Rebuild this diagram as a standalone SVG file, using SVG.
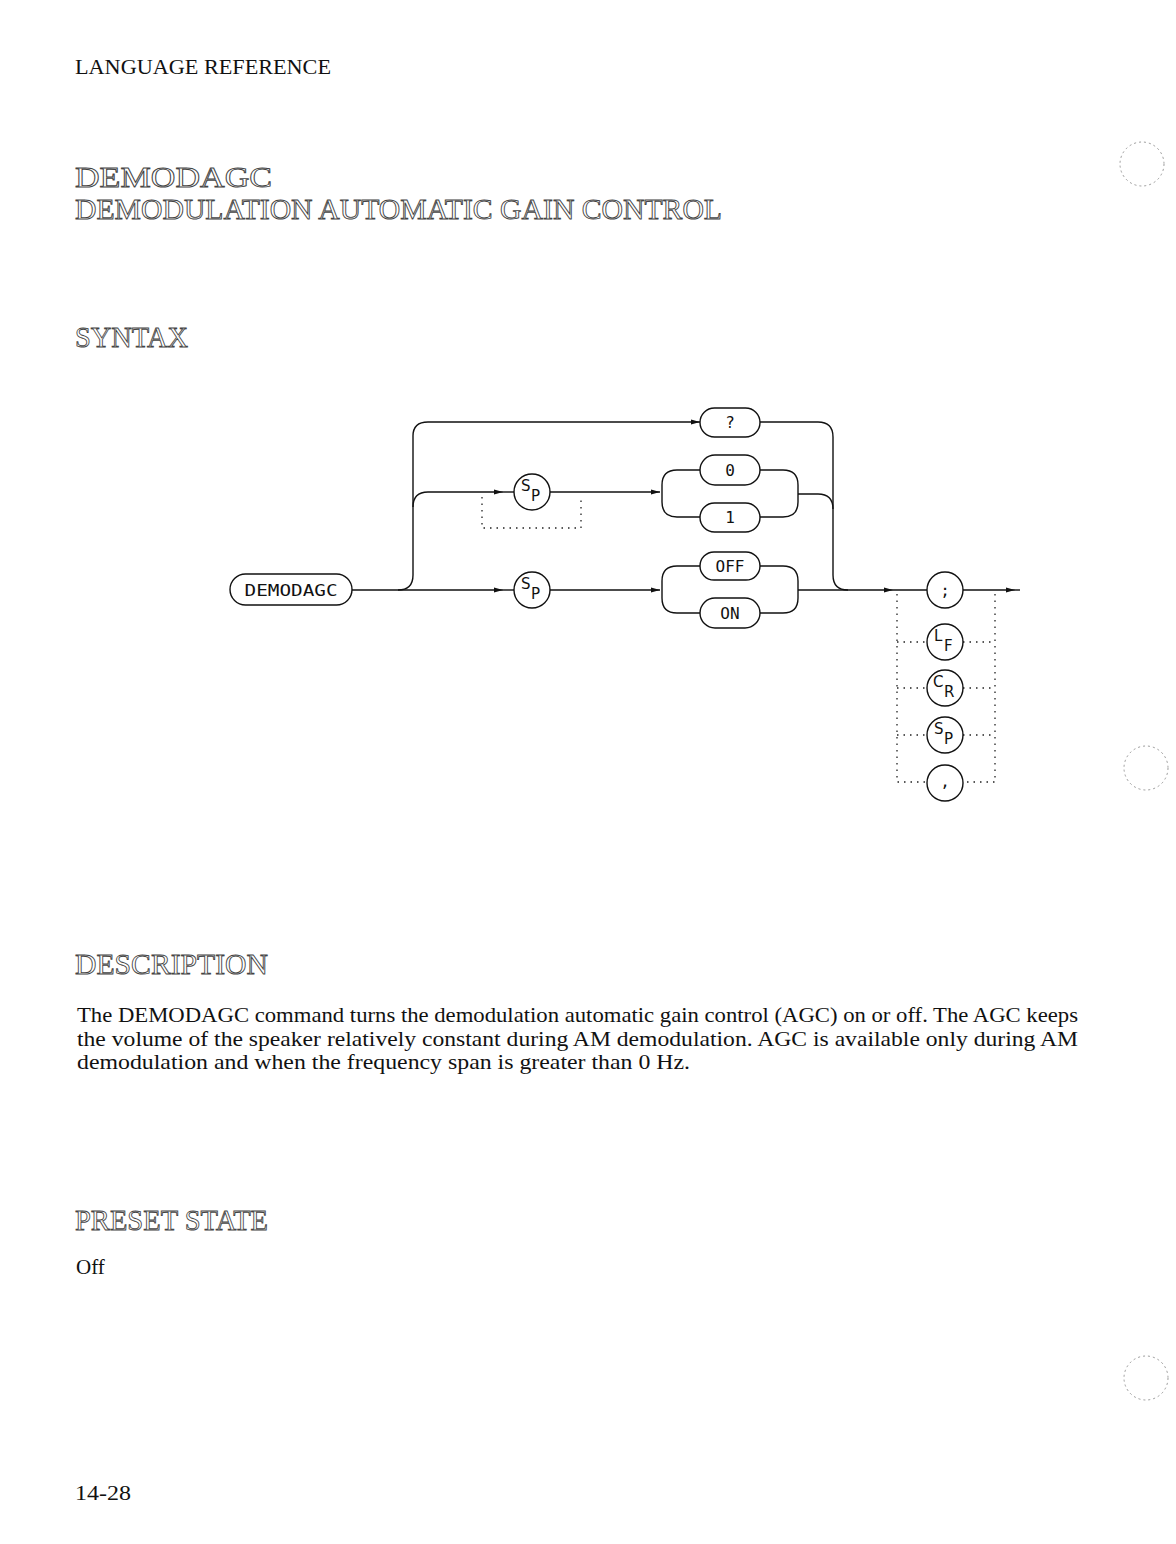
<svg xmlns="http://www.w3.org/2000/svg" width="1176" height="1544" viewBox="0 0 1176 1544">
<defs>
<style>
.serif{font-family:"Liberation Serif","Times New Roman",serif;fill:#111}
.title{font-family:"Liberation Serif","Times New Roman",serif;fill:#fff;stroke:#444;stroke-width:0.9}
.dg{font-family:"DejaVu Sans","Liberation Sans",sans-serif;fill:#111;font-size:15px}
.mono{font-family:"DejaVu Sans Mono","Liberation Mono",monospace;fill:#111;font-size:16px}
.ln{fill:none;stroke:#111;stroke-width:1.4}
.dot{fill:none;stroke:#222;stroke-width:1.3;stroke-dasharray:1.5 5}
.box{fill:#fff;stroke:#111;stroke-width:1.4}
.hole{fill:none;stroke:#999;stroke-width:1;stroke-dasharray:2 3}
</style>
<marker id="arr" markerWidth="10" markerHeight="8" refX="9" refY="4" orient="auto" markerUnits="userSpaceOnUse">
<path d="M0,1.5 L9,4 L0,6.5 Z" fill="#111"/>
</marker>
</defs>
<rect width="1176" height="1544" fill="#fff"/>

<text class="serif" x="75" y="74" font-size="21" textLength="256" lengthAdjust="spacingAndGlyphs">LANGUAGE REFERENCE</text>
<text class="title" x="75" y="187" font-size="29" textLength="197" lengthAdjust="spacingAndGlyphs">DEMODAGC</text>
<text class="title" x="75" y="219" font-size="29" textLength="647" lengthAdjust="spacingAndGlyphs">DEMODULATION AUTOMATIC GAIN CONTROL</text>
<text class="title" x="75" y="347" font-size="30" textLength="113" lengthAdjust="spacingAndGlyphs">SYNTAX</text>

<g id="holes">
<circle class="hole" cx="1142" cy="164" r="22"/>
<circle class="hole" cx="1146" cy="768" r="22"/>
<circle class="hole" cx="1146" cy="1378" r="22"/>
</g>

<g id="connectors">
<path class="ln" d="M352,590 H503" marker-end="url(#arr)"/>
<path class="ln" d="M503,590 H514"/>
<path class="ln" d="M398,590 Q413,590 413,575 V436 Q413,422 428,422 H700" marker-end="url(#arr)"/>
<path class="ln" d="M413,507 Q413,492 428,492 H503" marker-end="url(#arr)"/>
<path class="ln" d="M503,492 H514"/>
<path class="ln" d="M550,492 H660" marker-end="url(#arr)"/>
<path class="ln" d="M550,590 H660" marker-end="url(#arr)"/>
<path class="ln" d="M662,492 V485 Q662,470 677,470 H700 M662,492 V502 Q662,517 677,517 H700"/>
<path class="ln" d="M760,470 H783 Q798,470 798,485 V502 Q798,517 783,517 H760"/>
<path class="ln" d="M798,494 H818 Q833,494 833,509"/>
<path class="ln" d="M760,422 H818 Q833,422 833,437 V575 Q833,590 848,590"/>
<path class="ln" d="M662,590 V581 Q662,566 677,566 H700 M662,590 V598 Q662,613 677,613 H700"/>
<path class="ln" d="M760,566 H783 Q798,566 798,581 V598 Q798,613 783,613 H760"/>
<path class="ln" d="M798,590 H893" marker-end="url(#arr)"/>
<path class="ln" d="M893,590 H927"/>
<path class="ln" d="M963,590 H1015" marker-end="url(#arr)"/>
<path class="ln" d="M1015,590 H1020"/>
<path class="dot" d="M482,497 V528 H581 V497"/>
<path class="dot" d="M897,594 V782 H927 M995,594 V782 H963"/>
<path class="dot" d="M897,642 H927 M963,642 H995 M897,688 H927 M963,688 H995 M897,735 H927 M963,735 H995"/>
</g>

<g id="n-demodagc">
<rect class="box" x="230" y="574" width="122" height="31" rx="15.5"/>
<text class="mono" x="291" y="596" text-anchor="middle" textLength="93" lengthAdjust="spacingAndGlyphs">DEMODAGC</text>
</g>
<g id="n-sp1">
<circle class="box" cx="532" cy="492" r="18"/>
<text class="dg" x="521" y="491">S</text><text class="dg" x="531" y="501">P</text>
</g>
<g id="n-sp2">
<circle class="box" cx="532" cy="590" r="18"/>
<text class="dg" x="521" y="589">S</text><text class="dg" x="531" y="599">P</text>
</g>
<g id="n-query">
<rect class="box" x="700" y="408" width="60" height="29" rx="14.5"/>
<text class="mono" x="730" y="428" text-anchor="middle">?</text>
</g>
<g id="n-zero">
<rect class="box" x="700" y="455" width="60" height="30" rx="15"/>
<text class="mono" x="730" y="476" text-anchor="middle">0</text>
</g>
<g id="n-one">
<rect class="box" x="700" y="503" width="60" height="29" rx="14.5"/>
<text class="mono" x="730" y="523" text-anchor="middle">1</text>
</g>
<g id="n-off">
<rect class="box" x="700" y="552" width="60" height="28" rx="14"/>
<text class="mono" x="730" y="572" text-anchor="middle">OFF</text>
</g>
<g id="n-on">
<rect class="box" x="700" y="598" width="60" height="30" rx="15"/>
<text class="mono" x="730" y="619" text-anchor="middle">ON</text>
</g>
<g id="n-semi">
<circle class="box" cx="945" cy="590" r="18"/>
<text class="mono" x="945" y="596" text-anchor="middle">;</text>
</g>
<g id="n-lf">
<circle class="box" cx="945" cy="642" r="18"/>
<text class="dg" x="934" y="641">L</text><text class="dg" x="944" y="651">F</text>
</g>
<g id="n-cr">
<circle class="box" cx="945" cy="688" r="18"/>
<text class="dg" x="933" y="687">C</text><text class="dg" x="944" y="697">R</text>
</g>
<g id="n-sp3">
<circle class="box" cx="945" cy="735" r="18"/>
<text class="dg" x="934" y="734">S</text><text class="dg" x="944" y="744">P</text>
</g>
<g id="n-comma">
<circle class="box" cx="945" cy="783" r="18"/>
<text class="mono" x="945" y="787" text-anchor="middle">,</text>
</g>

<text class="title" x="75" y="974" font-size="30" textLength="193" lengthAdjust="spacingAndGlyphs">DESCRIPTION</text>
<text class="serif" font-size="22">
<tspan x="77" y="1022" textLength="1001" lengthAdjust="spacingAndGlyphs">The DEMODAGC command turns the demodulation automatic gain control (AGC) on or off. The AGC keeps</tspan>
<tspan x="77" y="1046" textLength="1001" lengthAdjust="spacingAndGlyphs">the volume of the speaker relatively constant during AM demodulation. AGC is available only during AM</tspan>
<tspan x="77" y="1069" textLength="613" lengthAdjust="spacingAndGlyphs">demodulation and when the frequency span is greater than 0 Hz.</tspan>
</text>
<text class="title" x="75" y="1230" font-size="30" textLength="193" lengthAdjust="spacingAndGlyphs">PRESET STATE</text>
<text class="serif" x="76" y="1274" font-size="21">Off</text>
<text class="serif" x="75" y="1500" font-size="20" textLength="56" lengthAdjust="spacingAndGlyphs">14-28</text>
</svg>
